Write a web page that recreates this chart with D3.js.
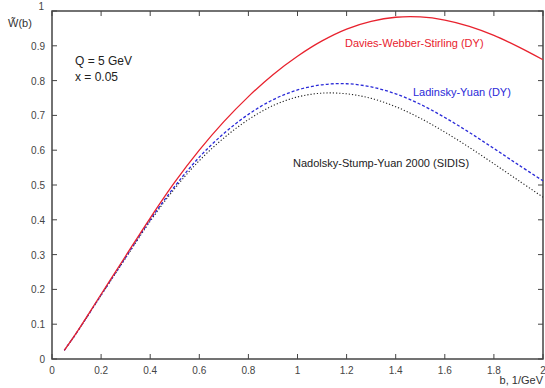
<!DOCTYPE html>
<html><head><meta charset="utf-8">
<script src="https://cdn.jsdelivr.net/npm/d3@7"></script>
<style>body{margin:0;background:#fff}svg{display:block}text{font-family:"Liberation Sans",Arial,sans-serif}</style>
</head><body><svg id="c" width="545" height="388"></svg>
<script>
const bValues = [0.05,0.1,0.2,0.3,0.4,0.5,0.6,0.7,0.8,0.9,1.0,1.1,1.2,1.3,1.4,1.5,1.6,1.7,1.8,1.9,2.0];
const dwsValues = [0.025,0.076,0.186,0.296,0.405,0.508,0.600,0.682,0.754,0.817,0.870,0.914,0.948,0.970,0.982,0.983,0.974,0.956,0.930,0.897,0.860];
const lyValues  = [0.025,0.075,0.184,0.292,0.400,0.496,0.580,0.648,0.703,0.745,0.773,0.788,0.791,0.782,0.762,0.732,0.694,0.651,0.605,0.558,0.512];
const nsyValues = [0.025,0.075,0.183,0.290,0.396,0.490,0.570,0.635,0.688,0.728,0.753,0.764,0.762,0.749,0.725,0.692,0.652,0.608,0.561,0.513,0.465];
const xTicks = [0,0.2,0.4,0.6,0.8,1,1.2,1.4,1.6,1.8,2];
const yTicks = [0,0.1,0.2,0.3,0.4,0.5,0.6,0.7,0.8,0.9,1];

const svg = d3.select("#c");
const L=52,R=543,T=11,B=359;
const x = d3.scaleLinear().domain([0,2]).range([L,R]);
const y = d3.scaleLinear().domain([0,1]).range([B,T]);
const axisCol="#444";

svg.append("rect").attr("x",L).attr("y",T).attr("width",R-L).attr("height",B-T)
  .attr("fill","none").attr("stroke",axisCol).attr("stroke-width",1.5);

const tk=5;
const tg=svg.append("g").attr("stroke",axisCol).attr("stroke-width",1);
xTicks.forEach(t=>{
  tg.append("line").attr("x1",x(t)).attr("x2",x(t)).attr("y1",B).attr("y2",B-tk);
  tg.append("line").attr("x1",x(t)).attr("x2",x(t)).attr("y1",T).attr("y2",T+tk);
});
yTicks.forEach(t=>{
  tg.append("line").attr("x1",L).attr("x2",L+tk).attr("y1",y(t)).attr("y2",y(t));
  tg.append("line").attr("x1",R).attr("x2",R-tk).attr("y1",y(t)).attr("y2",y(t));
});
svg.append("g").selectAll("text").data(xTicks).join("text")
  .attr("x",d=>x(d)).attr("y",B+15).attr("text-anchor","middle")
  .attr("font-size",10).attr("fill","#444").text(d=>d);
svg.append("g").selectAll("text").data(yTicks).join("text")
  .attr("x",d=>d===1?44:45).attr("y",d=>y(d)+(d===1?-1:4)).attr("text-anchor","end")
  .attr("font-size",10).attr("fill","#444").text(d=>d);

svg.append("text").attr("x",543).attr("y",384).attr("text-anchor","end")
  .attr("font-size",11).attr("fill","#333").text("b, 1/GeV");
svg.append("text").attr("x",8).attr("y",27)
  .attr("font-size",11).attr("fill","#333").text("W\u0303(b)");

svg.append("text").attr("x",75).attr("y",65).attr("font-size",12).attr("fill","#222").text("Q = 5 GeV");
svg.append("text").attr("x",75).attr("y",81).attr("font-size",12).attr("fill","#222").text("x = 0.05");

const line = vals => d3.line().x((d,i)=>x(bValues[i])).y(d=>y(d)).curve(d3.curveCatmullRom.alpha(0.5))(vals);
svg.append("path").attr("d",line(nsyValues)).attr("fill","none").attr("stroke","#222").attr("stroke-width",1.1).attr("stroke-dasharray","1.2,2");
svg.append("path").attr("d",line(lyValues)).attr("fill","none").attr("stroke","#2a2ad8").attr("stroke-width",1.3).attr("stroke-dasharray","3,2");
svg.append("path").attr("d",line(dwsValues)).attr("fill","none").attr("stroke","#e8222e").attr("stroke-width",1.3);

svg.append("text").attr("x",345).attr("y",47).attr("font-size",11).attr("fill","#e8222e").text("Davies-Webber-Stirling (DY)");
svg.append("text").attr("x",413).attr("y",96).attr("font-size",11).attr("fill","#2a2ad8").text("Ladinsky-Yuan (DY)");
svg.append("text").attr("x",293).attr("y",167).attr("font-size",11).attr("fill","#222").text("Nadolsky-Stump-Yuan 2000 (SIDIS)");
</script></body></html>
